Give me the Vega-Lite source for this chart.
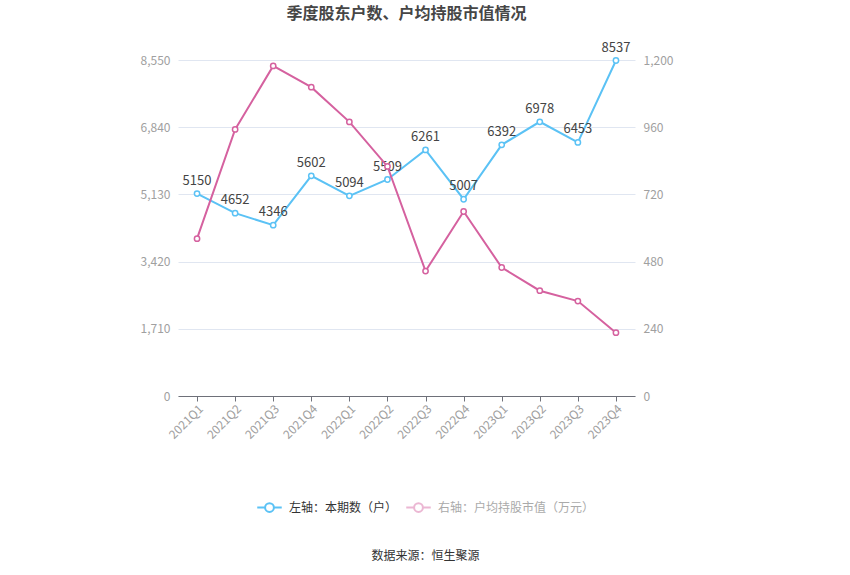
{
  "$schema": "https://vega.github.io/schema/vega-lite/v6.json",
  "width": 457,
  "height": 336,
  "autosize": {"type": "none"},
  "padding": {"left": 178, "top": 60, "right": 215, "bottom": 179},
  "background": "#ffffff",
  "title": {
    "text": "季度股东户数、户均持股市值情况",
    "fontSize": 16,
    "fontWeight": "bold",
    "color": "#464646",
    "font": "Noto Sans CJK SC",
    "anchor": "middle",
    "frame": "group",
    "offset": 20
  },
  "config": {
    "view": {"stroke": null},
    "font": "Noto Sans CJK SC",
    "axis": {"labelFont": "Noto Sans CJK SC", "labelFontSize": 12, "labelColor": "#a0a0a0"}
  },
  "data": {
    "values": [
      {"q": "2021Q1", "households": 5150, "value": 562},
      {"q": "2021Q2", "households": 4652, "value": 952},
      {"q": "2021Q3", "households": 4346, "value": 1179},
      {"q": "2021Q4", "households": 5602, "value": 1103},
      {"q": "2022Q1", "households": 5094, "value": 979},
      {"q": "2022Q2", "households": 5509, "value": 820},
      {"q": "2022Q3", "households": 6261, "value": 446},
      {"q": "2022Q4", "households": 5007, "value": 659},
      {"q": "2023Q1", "households": 6392, "value": 459},
      {"q": "2023Q2", "households": 6978, "value": 376},
      {"q": "2023Q3", "households": 6453, "value": 339},
      {"q": "2023Q4", "households": 8537, "value": 226}
    ]
  },
  "encoding": {
    "x": {
      "field": "q",
      "type": "ordinal",
      "sort": null,
      "scale": {"type": "point", "padding": 0.5},
      "axis": {
        "title": "数据来源：恒生聚源",
        "titleFont": "Noto Sans CJK SC",
        "titleFontSize": 12,
        "titleFontWeight": "normal",
        "titleColor": "#333333",
        "titlePadding": 110,
        "titleX": 247,
        "titleAnchor": "middle",
        "labelAngle": -45,
        "labelAlign": "right",
        "labelBaseline": "top",
        "labelPadding": 2,
        "domainColor": "#6e7079",
        "tickColor": "#6e7079",
        "tickSize": 5,
        "grid": false
      }
    }
  },
  "layer": [
    {
      "layer": [
        {
          "mark": {
            "type": "line",
            "strokeWidth": 2,
            "point": {"filled": false, "fill": "#ffffff", "size": 28, "strokeWidth": 1.5}
          },
          "encoding": {
            "y": {
              "field": "households",
              "type": "quantitative",
              "scale": {"domain": [0, 8550], "nice": false},
              "axis": {
                "orient": "left",
                "title": null,
                "values": [0, 1710, 3420, 5130, 6840, 8550],
                "format": ",.0f",
                "domain": false,
                "ticks": false,
                "labelPadding": 8,
                "gridColor": "#e0e6f1",
                "grid": true
              }
            },
            "color": {
              "datum": "左轴：本期数（户）",
              "type": "nominal",
              "scale": {
                "domain": ["左轴：本期数（户）", "右轴：户均持股市值（万元）"],
                "range": ["#5bc2f5", "#d5619f"]
              },
              "legend": {
                "title": null,
                "orient": "none",
                "legendX": 78,
                "legendY": 434,
                "direction": "horizontal",
                "symbolType": "M -0.36,0 A 0.36 0.36 0 1 1 0.36,0 A 0.36 0.36 0 1 1 -0.36,0 M -1,0 L -0.36,0 M 0.36,0 L 1,0",
                "symbolSize": 600,
                "symbolStrokeWidth": 2,
                "symbolFillColor": "#ffffff",
                "labelFont": "Noto Sans CJK SC",
                "labelFontSize": 12,
                "labelColor": "#333333",
                "labelOffset": 6,
                "columnPadding": 4,
                "encode": {
                  "labels": {"update": {"fill": {"signal": "datum.label === '左轴：本期数（户）' ? '#333333' : '#aaaaaa'"}}},
                  "symbols": {"update": {"opacity": {"signal": "datum.label === '左轴：本期数（户）' ? 1 : 0.45"}}}
                }
              }
            }
          }
        },
        {
          "mark": {"type": "text", "dy": -13, "fontSize": 13, "color": "#444444", "font": "Noto Sans CJK SC"},
          "encoding": {
            "y": {"field": "households", "type": "quantitative", "scale": {"domain": [0, 8550], "nice": false}},
            "text": {"field": "households", "type": "quantitative", "format": "d"}
          }
        }
      ]
    },
    {
      "mark": {
        "type": "line",
        "strokeWidth": 2,
        "point": {"filled": false, "fill": "#ffffff", "size": 28, "strokeWidth": 1.5}
      },
      "encoding": {
        "y": {
          "field": "value",
          "type": "quantitative",
          "scale": {"domain": [0, 1200], "nice": false},
          "axis": {
            "orient": "right",
            "title": null,
            "values": [0, 240, 480, 720, 960, 1200],
            "format": ",.0f",
            "domain": false,
            "ticks": false,
            "labelPadding": 8,
            "grid": false
          }
        },
        "color": {"datum": "右轴：户均持股市值（万元）", "type": "nominal"}
      }
    }
  ],
  "resolve": {"scale": {"y": "independent"}}
}
